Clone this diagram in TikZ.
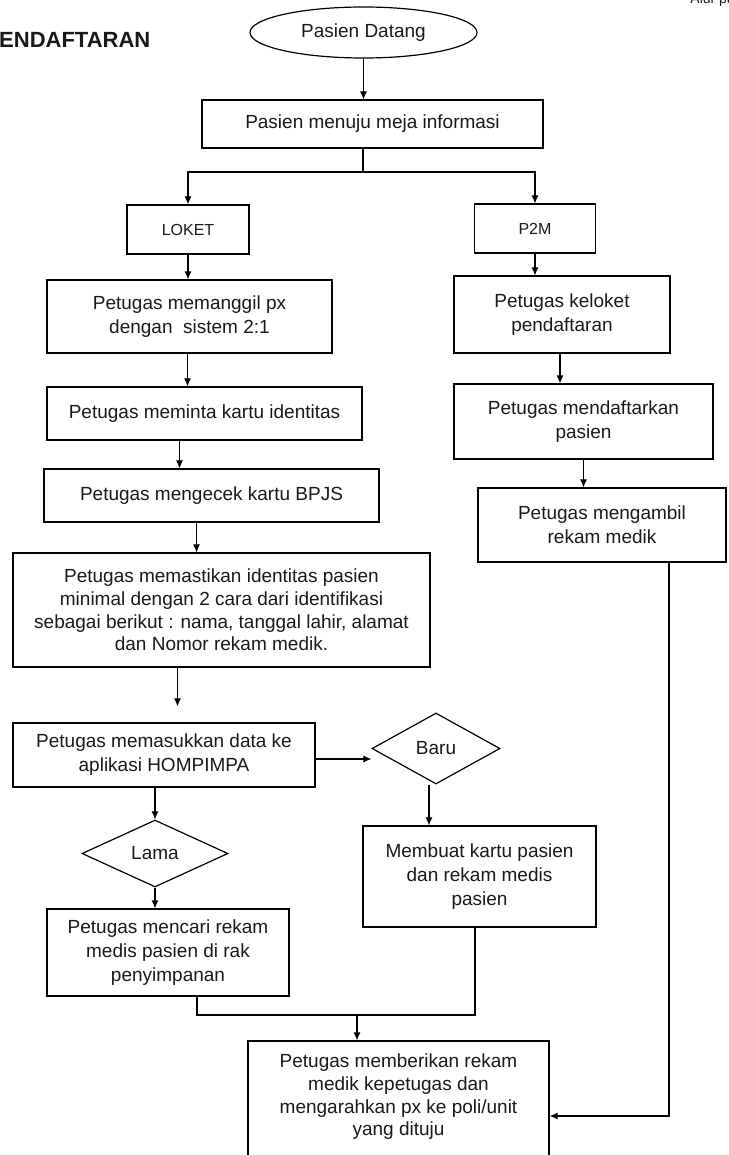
\documentclass[tikz,border=0pt]{standalone}
\usepackage{fontspec}
\setmainfont{Liberation Sans}
\usetikzlibrary{shapes.geometric,arrows.meta,positioning}

\begin{document}
\begin{tikzpicture}[x=1pt,y=-1pt,
  font=\fontsize{19}{24}\selectfont,
  every node/.style={inner sep=0pt,text=black!90},
  box/.style={draw,line width=1.2pt,align=center},
  choice/.style={draw,diamond,line width=1.2pt},
  tight/.style={font=\fontsize{19}{22.6}\selectfont},
  arr/.style={-{Latex[length=8pt,width=7pt]},line width=1.1pt},
  link/.style={line width=1.1pt}]
\useasboundingbox (0,0) rectangle (728,1155);

\node[anchor=base east,font=\fontsize{14}{16}\selectfont] (corner) at (735,4) {Alur pa};
\node[anchor=west,font=\fontsize{22}{26}\selectfont\bfseries] (title) at (-1,40) {ENDAFTARAN};

\node[draw,ellipse,line width=1.2pt,minimum width=227pt,minimum height=51pt] (datang) at (363.5,32.5) {Pasien Datang};
\node[box,minimum width=341pt,minimum height=48pt] (info) at (372.5,124) {Pasien menuju meja informasi};
\node[box,minimum width=122pt,minimum height=49pt,font=\fontsize{16}{19}\selectfont] (loket) at (188,229.5) {LOKET};
\node[box,minimum width=121pt,minimum height=49pt,font=\fontsize{16}{19}\selectfont] (p2m) at (535,228.5) {P2M};

\node[box,minimum width=285pt,minimum height=73pt] (panggil) at (189.5,316.5) {Petugas memanggil px\\dengan\ \ sistem 2:1};
\node[box,minimum width=315pt,minimum height=53pt] (minta) at (204.5,413.5) {Petugas meminta kartu identitas};
\node[box,minimum width=335pt,minimum height=53pt] (cek) at (211.5,495.5) {Petugas mengecek kartu BPJS};
\node[box,tight,minimum width=417pt,minimum height=114pt] (pastikan) at (221.5,610) {Petugas memastikan identitas pasien\\minimal dengan 2 cara dari identifikasi\\sebagai berikut : nama, tanggal lahir, alamat\\dan Nomor rekam medik.};
\node[box,minimum width=302pt,minimum height=64pt] (masuk) at (164,755) {Petugas memasukkan data ke\\aplikasi HOMPIMPA};
\node[choice,minimum width=128pt,minimum height=71pt] (baru) at (436,748.5) {Baru};
\node[choice,minimum width=146pt,minimum height=67pt] (lama) at (155,853.5) {Lama};
\node[box,minimum width=233pt,minimum height=101pt] (buat) at (479.5,876.5) {Membuat kartu pasien\\dan rekam medis\\pasien};
\node[box,minimum width=242pt,minimum height=87pt] (cari) at (168,952.5) {Petugas mencari rekam\\medis pasien di rak\\penyimpanan};

\node[box,minimum width=216pt,minimum height=77pt] (keloket) at (562,314.5) {Petugas keloket\\pendaftaran};
\node[box,minimum width=259pt,minimum height=75pt] (daftar) at (583.5,421.5) {Petugas mendaftarkan\\pasien};
\node[box,minimum width=248pt,minimum height=74pt] (ambil) at (602,525) {Petugas mengambil\\rekam medik};

\node[box,minimum width=301pt,minimum height=130pt] (final) at (398.5,1106) {};
\node[anchor=north,align=center,tight] (finaltxt) at (398.5,1054) {Petugas memberikan rekam\\medik kepetugas dan\\mengarahkan px ke poli/unit\\yang dituju};

\coordinate (fork) at (363,172);
\coordinate (join) at (357,1015);

\draw[arr] (datang.south) -- (datang.south |- info.north);
\draw[link] (info.south -| fork) -- (fork);
\draw[arr] (fork) -| (loket.north);
\draw[arr] (fork) -| (p2m.north);
\draw[arr] (loket.south) -- (loket.south |- panggil.north);
\draw[arr] ([xshift=-2pt]panggil.south) -- ([xshift=-2pt]panggil.south |- minta.north);
\draw[arr] ([xshift=-25pt]minta.south) -- ([xshift=-25pt]minta.south |- cek.north);
\draw[arr] ([xshift=-15pt]cek.south) -- ([xshift=-15pt]cek.south |- pastikan.north);
\draw[arr,shorten >=16pt] ([xshift=-44pt]pastikan.south) -- ([xshift=-44pt]pastikan.south |- masuk.north);
\draw[arr] ([yshift=-4pt]masuk.east) -- ([yshift=-4pt]masuk.east -| baru.west);
\draw[arr] (lama.north |- masuk.south) -- (lama.north);
\draw[arr] ([xshift=-7pt]baru.south) -- ([xshift=-7pt]baru.south |- buat.north);
\draw[arr] (lama.south) -- (lama.south |- cari.north);
\draw[link] ([xshift=29pt]cari.south) |- (join) -| ([xshift=-4.5pt]buat.south);
\draw[arr] (join) -- (join |- final.north);

\draw[arr] (p2m.south) -- (p2m.south |- keloket.north);
\draw[arr] ([xshift=-2pt]keloket.south) -- ([xshift=-2pt]keloket.south |- daftar.north);
\draw[arr] (daftar.south) -- (daftar.south |- ambil.north);
\draw[arr] ([xshift=67pt]ambil.south) |- ([yshift=-10pt]final.east);
\end{tikzpicture}
\end{document}
